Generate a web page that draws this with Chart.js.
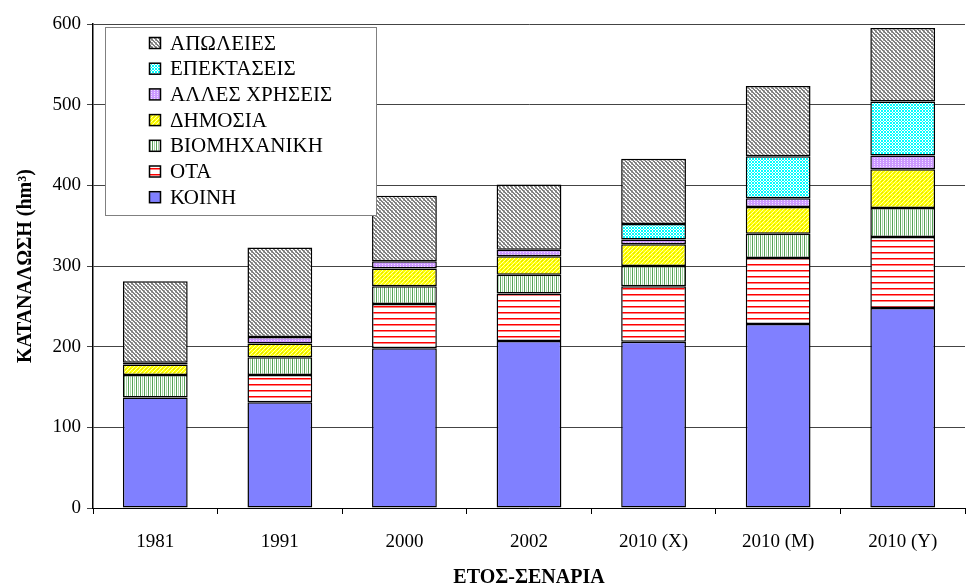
<!DOCTYPE html>
<html>
<head>
<meta charset="utf-8">
<script src="https://cdn.jsdelivr.net/npm/chart.js@4"></script>
<style>
  body { margin: 0; background: #fff; }
  canvas { display: block; }
</style>
</head>
<body>
<canvas id="chart" width="970" height="588"></canvas>
<script>
// data
const categories = ['1981', '1991', '2000', '2002', '2010 (X)', '2010 (M)', '2010 (Y)'];
const seriesNames = ['ΚΟΙΝΗ', 'ΟΤΑ', 'ΒΙΟΜΗΧΑΝΙΚΗ', 'ΔΗΜΟΣΙΑ', 'ΑΛΛΕΣ ΧΡΗΣΕΙΣ', 'ΕΠΕΚΤΑΣΕΙΣ', 'ΑΠΩΛΕΙΕΣ'];
const koinh = [137, 131, 198, 207, 206, 228, 248];
const ota = [0, 34, 55, 59, 69, 82, 88];
const viomichaniki = [28, 22, 22, 23, 25, 30, 36];
const dimosia = [13, 17, 22, 23, 27, 33, 48];
const alles = [2, 8, 9, 8, 6, 11, 17];
const epektaseis = [0, 0, 0, 0, 19, 52, 67];
const apoleies = [101, 111, 81, 81, 81, 87, 91];
const yTicks = [0, 100, 200, 300, 400, 500, 600];

const FONT = '"Liberation Serif", "Times New Roman", serif';

// ============================================
// PATTERNS
// ============================================

function makePattern(w, h, draw) {
    const c = document.createElement('canvas');
    c.width = w;
    c.height = h;
    const g = c.getContext('2d');
    draw(g);
    return g.createPattern(c, 'repeat');
}

function px(g, color, pts) {
    g.fillStyle = color;
    pts.forEach(p => g.fillRect(p[0], p[1], 1, 1));
}

const patKoinh = '#8080FF';

const patOta = makePattern(4, 6, g => {
    g.fillStyle = '#fff';
    g.fillRect(0, 0, 4, 6);
    g.fillStyle = '#FF0000';
    g.fillRect(0, 0, 4, 1.5);
});

const patViom = makePattern(4, 4, g => {
    g.fillStyle = '#fff';
    g.fillRect(0, 0, 4, 4);
    g.fillStyle = '#55A055';
    g.fillRect(0, 0, 1, 4);
    g.fillStyle = '#A8D4A8';
    g.fillRect(2, 0, 1, 4);
});

const patDimosia = makePattern(4, 4, g => {
    g.fillStyle = '#FFFF00';
    g.fillRect(0, 0, 4, 4);
    px(g, '#FFFFB0', [[0, 0], [3, 1], [2, 2], [1, 3]]);
    px(g, '#E0E000', [[2, 0], [1, 1]]);
});

const patAlles = makePattern(3, 2, g => {
    g.fillStyle = '#CC99FF';
    g.fillRect(0, 0, 3, 2);
    g.fillStyle = '#F0E0FF';
    g.fillRect(1, 0, 1, 1);
});

const patEpek = makePattern(3, 3, g => {
    g.fillStyle = '#fff';
    g.fillRect(0, 0, 3, 3);
    px(g, '#00FFFF', [[0, 0], [2, 0], [1, 1], [0, 2], [2, 2]]);
});

const patApoleies = makePattern(4, 4, g => {
    g.fillStyle = '#fff';
    g.fillRect(0, 0, 4, 4);
    px(g, '#808080', [[0, 0], [1, 1], [2, 2], [3, 3], [1, 0], [2, 1], [3, 2], [0, 3]]);
    px(g, '#B0B0B0', [[3, 0], [0, 2]]);
});

const fills = [patKoinh, patOta, patViom, patDimosia, patAlles, patEpek, patApoleies];
const values = [koinh, ota, viomichaniki, dimosia, alles, epektaseis, apoleies];

// ============================================
// LEGEND (inside plot, top left)
// ============================================

const insideLegend = {
    id: 'insideLegend',
    afterDraw(chart) {
        const ctx = chart.ctx;
        const x0 = 105, y0 = 27, w = 271, h = 188;
        ctx.save();
        ctx.fillStyle = '#fff';
        ctx.fillRect(x0, y0, w, h);
        ctx.strokeStyle = '#808080';
        ctx.lineWidth = 1;
        ctx.strokeRect(x0 + 0.5, y0 + 0.5, w, h);
        ctx.font = '21px ' + FONT;
        ctx.textBaseline = 'middle';
        ctx.fillStyle = '#000';
        const n = chart.data.datasets.length;
        for (let i = 0; i < n; i++) {
            const ds = chart.data.datasets[n - 1 - i];
            const cy = 43 + i * 25.7;
            ctx.fillStyle = ds.backgroundColor;
            ctx.fillRect(150, cy - 5, 10, 10);
            ctx.strokeStyle = '#000';
            ctx.lineWidth = 1.5;
            ctx.strokeRect(149.5, cy - 5.5, 11, 11);
            ctx.fillStyle = '#000';
            ctx.fillText(ds.label, 170, cy + 1);
        }
        ctx.restore();
    }
};

// ============================================
// CHART
// ============================================

const ctx = document.getElementById('chart').getContext('2d');

new Chart(ctx, {
    type: 'bar',
    data: {
        labels: categories,
        datasets: seriesNames.map((name, i) => ({
            label: name,
            data: values[i],
            backgroundColor: fills[i],
            borderColor: '#000',
            borderWidth: 1.5,
            borderSkipped: false,
            barPercentage: 0.52,
            categoryPercentage: 1
        }))
    },
    options: {
        responsive: false,
        animation: false,
        layout: {
            padding: { top: 24, right: 5, left: 14, bottom: 0 }
        },
        plugins: {
            legend: { display: false },
            tooltip: { enabled: false }
        },
        scales: {
            x: {
                stacked: true,
                offset: true,
                afterFit: scale => { scale.height = 80; },
                grid: {
                    offset: true,
                    drawOnChartArea: false,
                    color: '#000',
                    tickLength: 6
                },
                border: { color: '#000', width: 1 },
                ticks: {
                    color: '#000',
                    padding: 17,
                    font: { family: FONT, size: 19 }
                },
                title: {
                    display: true,
                    text: 'ΕΤΟΣ-ΣΕΝΑΡΙΑ',
                    color: '#000',
                    padding: { top: 10, bottom: 0 },
                    font: { family: FONT, size: 20, weight: 'bold', lineHeight: 1 }
                }
            },
            y: {
                stacked: true,
                min: 0,
                max: 600,
                afterFit: scale => { scale.width = 79; },
                afterBuildTicks: scale => {
                    scale.ticks = yTicks.map(v => ({ value: v }));
                },
                grid: {
                    color: '#444',
                    lineWidth: 1,
                    tickLength: 6
                },
                border: { color: '#000', width: 1.5 },
                ticks: {
                    color: '#000',
                    padding: 6,
                    font: { family: FONT, size: 19 }
                },
                title: {
                    display: true,
                    text: 'ΚΑΤΑΝΑΛΩΣΗ (hm³)',
                    color: '#000',
                    padding: { top: 0, bottom: 8 },
                    font: { family: FONT, size: 20, weight: 'bold' }
                }
            }
        }
    },
    plugins: [insideLegend]
});
</script>
</body>
</html>
